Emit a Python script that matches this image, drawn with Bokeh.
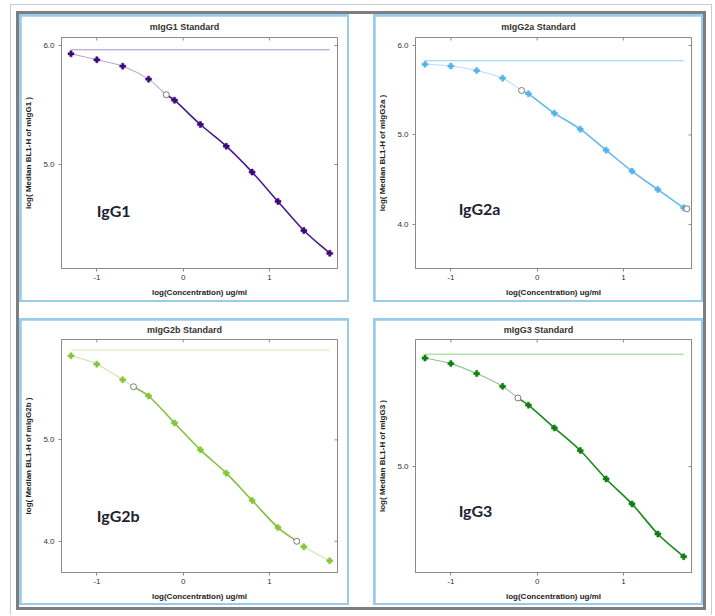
import math
from bokeh.plotting import figure
from bokeh.models import Range1d, FixedTicker, PrintfTickFormatter, Label, Spacer
from bokeh.layouts import row, column
from bokeh.embed import file_html
from bokeh.resources import INLINE

# ---------------- data ----------------
conc = [-1.3, -1.0, -0.7, -0.4, -0.1, 0.2, 0.5, 0.8, 1.1, 1.4, 1.7]

igg1_y = [5.93, 5.88, 5.826, 5.717, 5.54, 5.336, 5.154, 4.936, 4.689, 4.445, 4.254]
igg1_open_x = [-0.195]
igg1_open_y = [5.586]
igg1_plateau = 5.964

igg2a_y = [5.79, 5.77, 5.72, 5.635, 5.46, 5.244, 5.065, 4.83, 4.596, 4.39, 4.186]
igg2a_open_x = [-0.18, 1.736]
igg2a_open_y = [5.497, 4.175]
igg2a_plateau = 5.829

igg2b_y = [5.829, 5.747, 5.593, 5.433, 5.167, 4.902, 4.672, 4.403, 4.135, 3.945, 3.807]
igg2b_open_x = [-0.575, 1.318]
igg2b_open_y = [5.524, 4.0]
igg2b_plateau = 5.885

igg3_y = [5.783, 5.743, 5.671, 5.579, 5.443, 5.279, 5.116, 4.911, 4.731, 4.514, 4.35]
igg3_open_x = [-0.222]
igg3_open_y = [5.495]
igg3_plateau = 5.811

x_ticks = [-1, 0, 1]
y_ticks = [4.0, 5.0, 6.0]

# ---------------- helpers ----------------
ARIAL_BOLD = {"m": 889, "I": 278, "g": 611, "G": 778, "1": 556, "2": 556, "3": 556,
              "a": 556, "b": 611, " ": 278, "S": 667, "t": 333, "n": 611, "d": 611,
              "r": 389}


def text_width(s, size):
    return sum(ARIAL_BOLD.get(c, 600) for c in s) / 1000.0 * size


def hermite_segments(xs, ys):
    n = len(xs)
    m = []
    for i in range(n):
        if i == 0:
            m.append((ys[1] - ys[0]) / (xs[1] - xs[0]))
        elif i == n - 1:
            m.append((ys[-1] - ys[-2]) / (xs[-1] - xs[-2]))
        else:
            m.append((ys[i + 1] - ys[i - 1]) / (xs[i + 1] - xs[i - 1]))
    segs = []
    for i in range(n - 1):
        h = xs[i + 1] - xs[i]
        segs.append(dict(x0=xs[i], y0=ys[i], x1=xs[i + 1], y1=ys[i + 1],
                         cx0=xs[i] + h / 3, cy0=ys[i] + m[i] * h / 3,
                         cx1=xs[i + 1] - h / 3, cy1=ys[i + 1] - m[i + 1] * h / 3))
    return segs


FONT = "Liberation Sans"
AX = "#8a8a8a"
BL, BR = 37, 10  # figure borders (left, right)


def style_axis(ax, ticks, fmt, standoff, label, label_standoff):
    ax.ticker = FixedTicker(ticks=ticks, minor_ticks=[])
    ax.formatter = PrintfTickFormatter(format=fmt)
    ax.axis_line_color = AX
    ax.major_tick_line_color = AX
    ax.major_tick_out = 3
    ax.major_tick_in = 0
    ax.minor_tick_line_color = None
    ax.major_label_text_font = FONT
    ax.major_label_text_font_size = "8px"
    ax.major_label_text_color = "#333333"
    ax.major_label_standoff = standoff
    ax.axis_label = label
    ax.axis_label_text_font = FONT
    ax.axis_label_text_font_size = "8px"
    ax.axis_label_text_font_style = "bold"
    ax.axis_label_text_color = "#222222"
    ax.axis_label_standoff = label_standoff


def make_panel(title, ylabel, tag, tag_x, tag_y, yvals, open_x, open_y, plateau,
               dot_color, dark_color, light_color, plateau_color, y_range,
               width, height, top, bottom, title_standoff):
    xr = (-1.41, 1.79)
    p = figure(width=width, height=height, x_range=Range1d(*xr),
               y_range=Range1d(*y_range), output_backend="svg", toolbar_location=None,
               min_border_left=BL, min_border_right=BR, min_border_top=top,
               min_border_bottom=bottom)
    p.background_fill_color = "white"
    p.border_fill_color = "white"
    p.xgrid.visible = False
    p.ygrid.visible = False
    p.outline_line_color = AX
    p.outline_line_width = 1

    style_axis(p.xaxis[0], x_ticks, "%d", 3, "log(Concentration) ug/ml", 5)
    style_axis(p.yaxis[0], y_ticks, "%.1f", 4, ylabel, 7)

    # mirrored inward ticks on top and right edges of the frame
    xt = [t for t in x_ticks if xr[0] < t < xr[1]]
    yt = [t for t in y_ticks if y_range[0] < t < y_range[1]]
    p.ray(x=xt, y=[y_range[1]] * len(xt), length=3, length_units="screen",
          angle=-math.pi / 2, line_color=AX, line_width=1)
    p.ray(x=[xr[1]] * len(yt), y=yt, length=3, length_units="screen",
          angle=math.pi, line_color=AX, line_width=1)

    # panel title, centred on the whole panel
    tw = text_width(title, 9)
    p.title.text = title
    p.title.align = "left"
    p.title.vertical_align = "top"
    p.title.offset = width / 2 - tw / 2 - BL - 3
    p.title.text_font = FONT
    p.title.text_font_size = "9px"
    p.title.text_font_style = "bold"
    p.title.text_color = "#333333"
    p.title.standoff = title_standoff

    # plateau line
    p.line([conc[0], conc[-1]], [plateau, plateau], line_color=plateau_color, line_width=1)

    # fitted curve through standards and limit points
    pts = sorted(list(zip(conc, yvals)) + list(zip(open_x, open_y)))
    xs = [a for a, b in pts]
    ys = [b for a, b in pts]
    lo = open_x[0]
    hi = open_x[1] if len(open_x) > 1 else 99
    segs = hermite_segments(xs, ys)
    inside = lambda s: s["x0"] >= lo - 1e-9 and s["x1"] <= hi + 1e-9
    dark = [s for s in segs if inside(s)]
    light = [s for s in segs if not inside(s)]
    keys = ["x0", "y0", "x1", "y1", "cx0", "cy0", "cx1", "cy1"]
    if light:
        p.bezier(**{k: [s[k] for s in light] for k in keys}, line_color=light_color, line_width=1.1)
    if dark:
        p.bezier(**{k: [s[k] for s in dark] for k in keys}, line_color=dark_color, line_width=1.6)

    p.scatter(conc, yvals, marker="plus", size=6, fill_color=dot_color, line_color=dot_color,
              line_width=0.5)
    p.scatter(open_x, open_y, marker="circle", size=6, fill_color="white",
              line_color="#7a7a7a", line_width=1)

    p.add_layout(Label(x=tag_x, y=tag_y, text=tag, text_font="Lato", text_font_style="bold",
                       text_font_size="16px", text_color="#1d2230", text_baseline="middle",
                       text_align="left"))
    return p


def framed(fig, w, h, color="#98cbec", t=2):
    return column(Spacer(width=w + 2 * t, height=t),
                  row(Spacer(width=t, height=h), fig, Spacer(width=t, height=h)),
                  Spacer(width=w + 2 * t, height=t),
                  styles={"background-color": color})


FW = 326
p1 = make_panel("mIgG1 Standard", "log( Median BL1-H of mIgG1 )", "IgG1", -1.0, 4.61,
                igg1_y, igg1_open_x, igg1_open_y, igg1_plateau,
                "#3b0a78", "#4a1a8c", "#b9a5d8", "#a892d0", (4.126, 6.067), FW, 284, 21, 32, 8)
p2 = make_panel("mIgG2a Standard", "log( Median BL1-H of mIgG2a )", "IgG2a", -0.91, 4.18,
                igg2a_y, igg2a_open_x, igg2a_open_y, igg2a_plateau,
                "#55b3ec", "#64baeb", "#b8def5", "#92cdf0", (3.508, 6.089), FW, 284, 21, 32, 8)
p3 = make_panel("mIgG2b Standard", "log( Median BL1-H of mIgG2b )", "IgG2b", -1.0, 4.25,
                igg2b_y, igg2b_open_x, igg2b_open_y, igg2b_plateau,
                "#86c43a", "#84c03c", "#d0e6a6", "#d6e9b2", (3.692, 5.99), FW, 283, 19, 29, 5)
p4 = make_panel("mIgG3 Standard", "log( Median BL1-H of mIgG3 )", "IgG3", -0.91, 4.68,
                igg3_y, igg3_open_x, igg3_open_y, igg3_plateau,
                "#0f7d0f", "#1a8a1a", "#8cc68c", "#8fcf8f", (4.236, 5.917), FW, 283, 19, 29, 5)

b1 = framed(p1, FW, 284)
b2 = framed(p2, FW, 284)
b3 = framed(p3, FW, 283)
b4 = framed(p4, FW, 283)

# panels area (684 x 593) at (19,14)
panels = column(row(b1, Spacer(width=24, height=288), b2),
                Spacer(width=684, height=16),
                row(b3, Spacer(width=24, height=287), b4),
                Spacer(width=684, height=2),
                styles={"background-color": "white"})
# dark gray frame (690 x 599) at (16,11)
dark_frame = column(Spacer(width=690, height=3),
                    row(Spacer(width=3, height=593), panels, Spacer(width=3, height=593)),
                    Spacer(width=690, height=3),
                    styles={"background-color": "#7e7e7e"})
# white area (700 x 610) at (11,5)
white_inner = column(Spacer(width=700, height=6),
                     row(Spacer(width=5, height=599), dark_frame, Spacer(width=5, height=599)),
                     Spacer(width=700, height=5),
                     styles={"background-color": "white"})
# light gray hairline box (702 x 611) at (10,4)
light_box = column(Spacer(width=702, height=1),
                   row(Spacer(width=1, height=610), white_inner, Spacer(width=1, height=610)),
                   styles={"background-color": "#cccccc"})
root = column(Spacer(width=712, height=4),
              row(Spacer(width=10, height=611), light_box))

open("out.html", "w").write(file_html(root, INLINE))
